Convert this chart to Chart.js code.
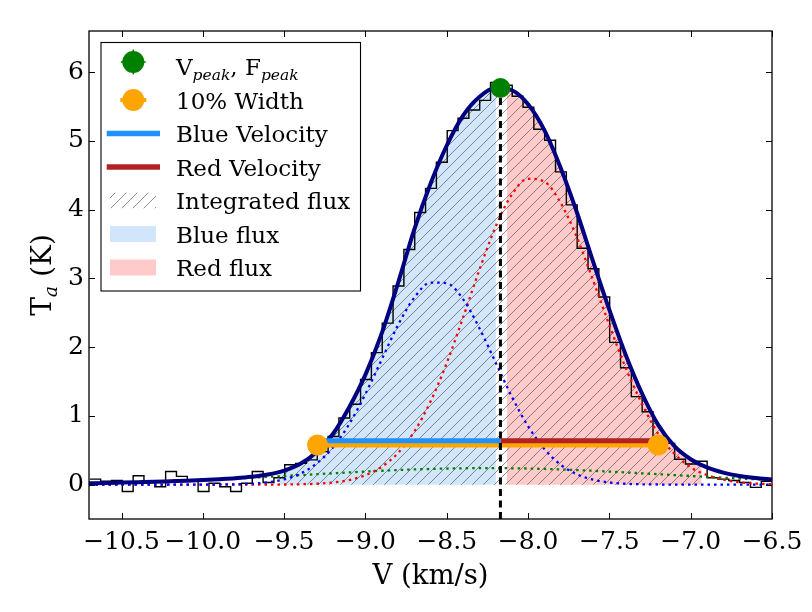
<!DOCTYPE html>
<html>
<head>
<meta charset="utf-8">
<script src="https://cdn.jsdelivr.net/npm/chart.js@4.4.1/dist/chart.umd.min.js"></script>
<style>
  html, body { margin: 0; padding: 0; background: #fff; }
</style>
</head>
<body>
<canvas id="myChart" width="812" height="612"></canvas>
<script>
// spectrum: channel grid (km/s) and brightness temperature (K)
const chanStart = -10.695;
const chanWidth = 0.0666;
const spectrum = [
  0.08, 0.05, 0.06, -0.10, 0.13, 0.03, -0.03, 0.19, 0.12, 0.07,
  -0.10, 0.02, -0.03, -0.10, 0.02, 0.19, 0.03, 0.10, 0.29, 0.31,
  0.36, 0.48, 0.70, 0.97, 1.17, 1.53, 1.92, 2.35, 2.89, 3.42,
  3.96, 4.31, 4.69, 5.15, 5.33, 5.45, 5.59, 5.85, 5.81, 5.65,
  5.49, 5.17, 5.01, 4.55, 4.07, 3.44, 3.14, 2.73, 2.07, 1.70,
  1.28, 1.06, 0.66, 0.60, 0.37, 0.30, 0.34, 0.10, 0.08, 0.06,
  0.03, -0.04, 0.05
];

// gaussian fit, read on a 0.1 km/s grid
const fitStart = -10.7;
const fitStep = 0.1;
const fitTotal = [
  0.020, 0.024, 0.030, 0.036, 0.042, 0.050, 0.058, 0.068, 0.080, 0.094,
  0.115, 0.148, 0.205, 0.304, 0.475, 0.736, 1.125, 1.60, 2.20, 2.93,
  3.711, 4.378, 4.934, 5.368, 5.640, 5.770, 5.738, 5.534, 5.158, 4.611,
  3.963, 3.244, 2.542, 1.891, 1.33, 0.87, 0.56, 0.37, 0.25, 0.175,
  0.126, 0.095, 0.075
];
const fitBlue = [
  0, 0, 0, 0, 0, 0, 0, 0, 0.002, 0.005,
  0.014, 0.034, 0.077, 0.16, 0.31, 0.54, 0.88, 1.32, 1.82, 2.32,
  2.72, 2.94, 2.93, 2.70, 2.28, 1.78, 1.28, 0.85, 0.52, 0.29,
  0.151, 0.072, 0.032, 0.013, 0.005, 0.002, 0, 0, 0, 0,
  0, 0, 0
];
const fitRed = [
  0, 0, 0, 0, 0, 0, 0, 0, 0, 0,
  0, 0.001, 0.002, 0.005, 0.013, 0.031, 0.067, 0.137, 0.26, 0.46,
  0.77, 1.21, 1.77, 2.43, 3.12, 3.75, 4.22, 4.45, 4.41, 4.10,
  3.60, 2.97, 2.32, 1.70, 1.18, 0.74, 0.45, 0.25, 0.14, 0.072,
  0.035, 0.016, 0.007
];
const fitBroad = [
  0.020, 0.024, 0.030, 0.036, 0.042, 0.050, 0.058, 0.068, 0.078, 0.089,
  0.101, 0.113, 0.126, 0.139, 0.152, 0.165, 0.178, 0.190, 0.202, 0.212,
  0.221, 0.228, 0.234, 0.238, 0.240, 0.240, 0.238, 0.234, 0.228, 0.221,
  0.212, 0.202, 0.190, 0.178, 0.165, 0.152, 0.139, 0.126, 0.113, 0.101,
  0.089, 0.078, 0.068
];
// fit read at the channel centres (used for the flux areas)
const fitAtChan = [
  0.022, 0.024, 0.028, 0.032, 0.036, 0.040, 0.045, 0.050, 0.056, 0.062,
  0.068, 0.076, 0.085, 0.095, 0.108, 0.126, 0.150, 0.188, 0.243, 0.311,
  0.425, 0.574, 0.752, 0.99, 1.29, 1.62, 2.02, 2.46, 2.95, 3.48,
  3.95, 4.40, 4.76, 5.09, 5.37, 5.56, 5.69, 5.77, 5.76, 5.67,
  5.53, 5.28, 4.97, 4.60, 4.17, 3.71, 3.23, 2.77, 2.31, 1.88,
  1.51, 1.17, 0.87, 0.66, 0.495, 0.37, 0.29, 0.225, 0.175, 0.142,
  0.115, 0.095, 0.082
];

// derived quantities
const vPeak = -8.17;
const fPeak = 5.77;
const width10 = [-9.295, -7.2];
const width10Level = 0.577;
const velLevel = 0.64;
const fluxRange = [-9.55, -6.92];

// axes
const xRange = [-10.7, -6.5];
const yRange = [-0.5, 6.6];
const xTickVals = [-10.5, -10.0, -9.5, -9.0, -8.5, -8.0, -7.5, -7.0, -6.5];
const yTickVals = [0, 1, 2, 3, 4, 5, 6];

const SERIF = '"DejaVu Serif", serif';

// ---------- build points ----------
const grid = (start, step, n) => Array.from({length: n}, (_, i) => +(start + i * step).toFixed(4));
const pts = (xs, ys) => ys.map((v, i) => ({x: xs[i], y: v}));

const chanEdges = grid(chanStart, chanWidth, spectrum.length + 1);
const chanCentres = chanEdges.slice(0, -1).map(e => e + chanWidth / 2);
const fitGrid = grid(fitStart, fitStep, fitTotal.length);

const chanFit = pts(chanCentres, fitAtChan);
const inFlux = p => p.x >= fluxRange[0] && p.x <= fluxRange[1];
const allFlux = chanFit.filter(inFlux);
const blueFlux = allFlux.filter(p => p.x < vPeak);
const redFlux = allFlux.filter(p => p.x > vPeak);

function hatch() {
  const c = document.createElement('canvas');
  c.width = 11; c.height = 11;
  const g = c.getContext('2d');
  g.strokeStyle = 'rgba(85,85,85,0.75)';
  g.lineWidth = 0.9;
  g.beginPath();
  g.moveTo(0, 11); g.lineTo(11, 0);
  g.moveTo(-2, 2); g.lineTo(2, -2);
  g.moveTo(9, 13); g.lineTo(13, 9);
  g.stroke();
  return g.createPattern(c, 'repeat');
}
const hatchFill = hatch();

const dotted = (data, color) => ({
  data, borderColor: color, borderWidth: 2.3, borderDash: [2.5, 4],
  cubicInterpolationMode: 'monotone', order: 6
});

const datasets = [
  { data: [{x: vPeak, y: fPeak}], showLine: false, pointRadius: 10,
    pointBackgroundColor: 'green', pointBorderWidth: 0, order: 0 },
  { data: [{x: vPeak, y: yRange[0]}, {x: vPeak, y: fPeak}], borderColor: '#000',
    borderWidth: 3, borderDash: [7, 4.5], order: 1 },
  { data: width10.map(v => ({x: v, y: width10Level})), showLine: false, pointRadius: 10.5,
    pointBackgroundColor: 'orange', pointBorderWidth: 0, order: 2 },
  { data: [{x: width10[0], y: velLevel}, {x: vPeak, y: velLevel}], borderColor: 'dodgerblue',
    borderWidth: 5, order: 3 },
  { data: [{x: vPeak, y: velLevel}, {x: width10[1], y: velLevel}], borderColor: 'firebrick',
    borderWidth: 5, order: 3 },
  { data: width10.map(v => ({x: v, y: width10Level})), borderColor: 'orange',
    borderWidth: 5, order: 4 },
  { data: pts(fitGrid, fitTotal), borderColor: 'navy', borderWidth: 4,
    cubicInterpolationMode: 'monotone', order: 5 },
  dotted(pts(fitGrid, fitBlue), 'blue'),
  dotted(pts(fitGrid, fitRed), 'red'),
  dotted(pts(fitGrid, fitBroad), 'green'),
  { data: pts(chanEdges, spectrum.concat(spectrum[spectrum.length - 1])), stepped: 'before',
    borderColor: '#000', borderWidth: 1.4, order: 7 },
  { data: allFlux, fill: 'origin', backgroundColor: hatchFill, borderWidth: 0,
    borderColor: 'rgba(0,0,0,0)', order: 8 },
  { data: blueFlux, fill: 'origin', backgroundColor: '#d2e6fb', borderWidth: 0,
    borderColor: 'rgba(0,0,0,0)', order: 9 },
  { data: redFlux, fill: 'origin', backgroundColor: '#ffcaca', borderWidth: 0,
    borderColor: 'rgba(0,0,0,0)', order: 9 }
];

// ---------- legend, frame, ticks, titles ----------
const legendItems = [
  {kind: 'peak', runs: [['V', 0], ['peak', 1], [', F', 0], ['peak', 1]]},
  {kind: 'width', runs: [['10% Width', 0]]},
  {kind: 'line', color: 'dodgerblue', runs: [['Blue Velocity', 0]]},
  {kind: 'line', color: 'firebrick', runs: [['Red Velocity', 0]]},
  {kind: 'hatch', runs: [['Integrated flux', 0]]},
  {kind: 'patch', color: '#d2e6fb', runs: [['Blue flux', 0]]},
  {kind: 'patch', color: '#ffcaca', runs: [['Red flux', 0]]}
];

function drawRuns(ctx, runs, x, y, size, subSize, subShift) {
  runs.forEach(([t, sub]) => {
    ctx.font = sub ? `italic ${subSize}px ${SERIF}` : `${size}px ${SERIF}`;
    ctx.fillText(t, x, y + (sub ? subShift : 0));
    x += ctx.measureText(t).width;
  });
  return x;
}
function runsWidth(ctx, runs, size, subSize) {
  let w = 0;
  runs.forEach(([t, sub]) => {
    ctx.font = sub ? `italic ${subSize}px ${SERIF}` : `${size}px ${SERIF}`;
    w += ctx.measureText(t).width;
  });
  return w;
}

const decor = {
  id: 'decor',
  afterDatasetsDraw(chart) {
    const {ctx, chartArea: a, scales: {x, y}} = chart;
    ctx.save();
    // inward ticks on all sides
    ctx.strokeStyle = '#000';
    ctx.lineWidth = 1;
    ctx.beginPath();
    x.ticks.forEach(t => {
      const px = Math.round(x.getPixelForValue(t.value)) + 0.5;
      ctx.moveTo(px, a.bottom); ctx.lineTo(px, a.bottom - 6);
      ctx.moveTo(px, a.top); ctx.lineTo(px, a.top + 6);
    });
    y.ticks.forEach(t => {
      const py = Math.round(y.getPixelForValue(t.value)) + 0.5;
      ctx.moveTo(a.left, py); ctx.lineTo(a.left + 6, py);
      ctx.moveTo(a.right, py); ctx.lineTo(a.right - 6, py);
    });
    ctx.stroke();
    ctx.lineWidth = 1.3;
    ctx.strokeRect(a.left, a.top, a.right - a.left, a.bottom - a.top);

    // axis titles
    ctx.fillStyle = '#000';
    ctx.textBaseline = 'alphabetic';
    ctx.textAlign = 'left';
    ctx.font = `27.5px ${SERIF}`;
    const xt = 'V (km/s)';
    const xw = ctx.measureText(xt).width;
    ctx.fillText(xt, (a.left + a.right) / 2 - xw / 2, 584);

    const yRuns = [['T', 0], ['a', 1], [' (K)', 0]];
    const yw = runsWidth(ctx, yRuns, 28, 19);
    ctx.save();
    ctx.translate(51, (a.top + a.bottom) / 2);
    ctx.rotate(-Math.PI / 2);
    drawRuns(ctx, yRuns, -yw / 2, 0, 28, 19, 6);
    ctx.restore();

    // legend
    const bx = 101, by = 42.5, bw = 259.5, bh = 248.5;
    ctx.fillStyle = '#fff';
    ctx.fillRect(bx, by, bw, bh);
    ctx.strokeStyle = '#000';
    ctx.lineWidth = 1.1;
    ctx.strokeRect(bx, by, bw, bh);
    legendItems.forEach((it, i) => {
      const base = 75 + 33.5 * i;
      const cy = base - 8.5;
      const hx = 133.3;
      if (it.kind === 'peak') {
        const my = base - 13;
        ctx.strokeStyle = 'green'; ctx.lineWidth = 1.5;
        ctx.beginPath();
        ctx.moveTo(hx - 12.5, my); ctx.lineTo(hx + 12.5, my);
        ctx.moveTo(hx, my - 12.5); ctx.lineTo(hx, my + 12.5);
        ctx.stroke();
        ctx.fillStyle = 'green';
        ctx.beginPath(); ctx.arc(hx, my, 11, 0, Math.PI * 2); ctx.fill();
      } else if (it.kind === 'width') {
        ctx.strokeStyle = 'orange'; ctx.lineWidth = 4;
        ctx.beginPath(); ctx.moveTo(hx - 13, cy); ctx.lineTo(hx + 13, cy); ctx.stroke();
        ctx.fillStyle = 'orange';
        ctx.beginPath(); ctx.arc(hx, cy, 11, 0, Math.PI * 2); ctx.fill();
      } else if (it.kind === 'line') {
        ctx.strokeStyle = it.color; ctx.lineWidth = 5.5;
        ctx.beginPath(); ctx.moveTo(106.7, cy); ctx.lineTo(160, cy); ctx.stroke();
      } else if (it.kind === 'hatch') {
        ctx.save();
        ctx.beginPath(); ctx.rect(110, cy - 8, 46, 16); ctx.clip();
        ctx.fillStyle = hatchFill; ctx.fillRect(110, cy - 8, 46, 16);
        ctx.restore();
      } else {
        ctx.fillStyle = it.color; ctx.fillRect(110, cy - 8, 46, 16);
      }
      ctx.fillStyle = '#000';
      drawRuns(ctx, it.runs, 176, base, 23, 15.5, 5);
    });
    ctx.restore();
  }
};

const tickFont = {family: SERIF, size: 25};
const fmtX = v => (v < 0 ? '\u2212' : '') + Math.abs(v).toFixed(1);
const fmtY = v => (v < 0 ? '\u2212' : '') + Math.abs(v).toFixed(0);

new Chart(document.getElementById('myChart').getContext('2d'), {
  type: 'line',
  data: { datasets },
  options: {
    responsive: false,
    animation: false,
    devicePixelRatio: 1,
    layout: { padding: { top: 31, right: 40, left: 0, bottom: 0 } },
    elements: { point: { radius: 0, hitRadius: 0 }, line: { tension: 0 } },
    plugins: { legend: { display: false }, tooltip: { enabled: false } },
    scales: {
      x: {
        type: 'linear', min: xRange[0], max: xRange[1],
        grid: { display: false, drawTicks: false }, border: { display: false },
        ticks: { font: tickFont, color: '#000', padding: 8, maxRotation: 0, autoSkip: false,
                 callback: v => fmtX(v) },
        afterBuildTicks: s => { s.ticks = xTickVals.map(v => ({value: v})); },
        afterFit: s => { s.height = 93; }
      },
      y: {
        type: 'linear', min: yRange[0], max: yRange[1],
        grid: { display: false, drawTicks: false }, border: { display: false },
        ticks: { font: tickFont, color: '#000', padding: 5, autoSkip: false,
                 callback: v => fmtY(v) },
        afterBuildTicks: s => { s.ticks = yTickVals.map(v => ({value: v})); },
        afterFit: s => { s.width = 89; }
      }
    }
  },
  plugins: [decor]
});
</script>
</body>
</html>
